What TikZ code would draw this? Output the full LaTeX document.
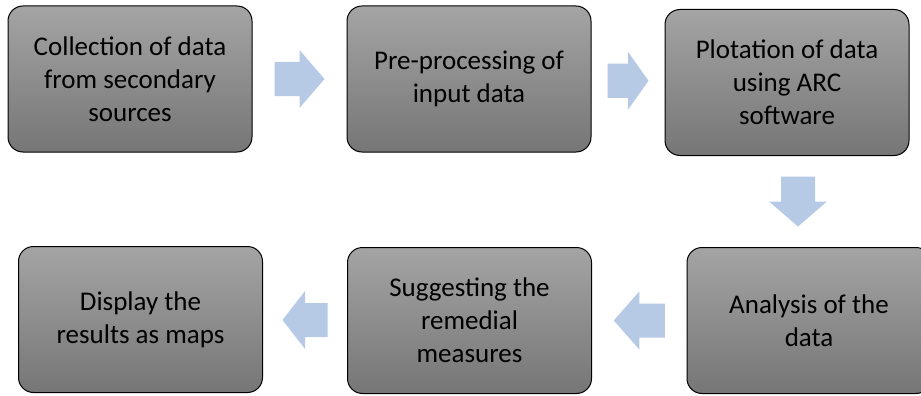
\documentclass[tikz,border=0pt]{standalone}
\usepackage{fontspec}
\setmainfont{Carlito}
\usetikzlibrary{positioning,calc}
\definecolor{boxtop}{RGB}{164,164,164}
\definecolor{boxbot}{RGB}{118,118,118}
\definecolor{arrowblue}{RGB}{182,202,230}

\tikzset{pics/blockarrow/.style={code={
  \fill[arrowblue] (-#1/2,-17) -- (0,-17) -- (0,-29) -- (#1/2,0)
                   -- (0,29) -- (0,17) -- (-#1/2,17) -- cycle;}}}

\begin{document}
\begin{tikzpicture}[x=1pt,y=-1pt,
    stepbox/.style={draw=black,line width=1pt,rounded corners=15pt,
                    minimum width=244pt,minimum height=146pt,inner sep=0pt,
                    top color=boxtop,bottom color=boxbot,align=center,
                    font=\fontsize{27}{33}\selectfont}]
  \clip (0,0) rectangle (921,396);
  \node[stepbox] (collect)  at (130,79)    {Collection of data\\from secondary\\sources};
  \node[stepbox] (preproc)  at (469,79)    {Pre-processing of\\input data};
  \node[stepbox] (plot)     at (787,82.5)  {Plotation of data\\using ARC\\software};
  \node[stepbox] (analysis) at (809,320.5) {Analysis of the\\data};
  \node[stepbox] (suggest)  at (469.5,320.5) {Suggesting the\\remedial\\measures};
  \node[stepbox] (display)  at (140.5,319.5) {Display the\\results as maps};
  % block arrows between the steps
  \pic at ($(collect.east)!0.5!(preproc.west)$) {blockarrow=50};
  \pic at ($(preproc.east)!0.5!(plot.west)$) {blockarrow=41};
  \pic[rotate=-90] at ($(plot.south)!0.5!(analysis.north)$) {blockarrow=50};
  \pic[rotate=180] at ($(analysis.west)!0.5!(suggest.east)$) {blockarrow=51};
  \pic[rotate=180] at ($(suggest.west)!0.5!(display.east)$) {blockarrow=45};
\end{tikzpicture}
\end{document}
